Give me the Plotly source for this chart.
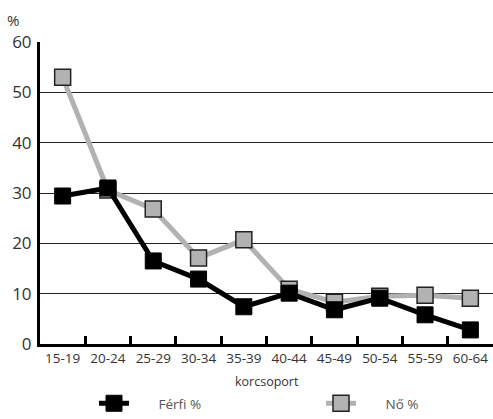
import plotly.graph_objects as go

categories = ["15-19", "20-24", "25-29", "30-34", "35-39", "40-44", "45-49", "50-54", "55-59", "60-64"]
ferfi = [29.4, 31.0, 16.5, 12.9, 7.4, 10.1, 6.8, 9.1, 5.8, 2.8]
no = [53.0, 30.6, 26.8, 17.1, 20.7, 10.9, 8.3, 9.5, 9.7, 9.1]
y_ticks = [0, 10, 20, 30, 40, 50, 60]

FONT = "Open Sans"
PAD = "\u00a0" * 7

fig = go.Figure()
fig.add_trace(go.Scatter(
    x=categories, y=no, name=PAD + "Nő %", mode="lines+markers",
    line=dict(color="#b2b2b2", width=5),
    marker=dict(symbol="square", size=16, color="#b2b2b2", line=dict(color="#222222", width=1.5)),
    legend="legend2", hoverinfo="skip",
))
fig.add_trace(go.Scatter(
    x=categories, y=ferfi, name=PAD + "Férfi %", mode="lines+markers",
    line=dict(color="#000000", width=5),
    marker=dict(symbol="square", size=16, color="#000000", line=dict(color="#000000", width=1)),
    legend="legend", hoverinfo="skip",
))

leg_common = dict(orientation="h", y=0.0, xref="container", yref="container",
                  xanchor="left", yanchor="bottom", bgcolor="rgba(0,0,0,0)",
                  font=dict(size=13.5, color="#555555"), itemsizing="trace")

fig.update_layout(
    width=493, height=419,
    margin=dict(l=40, r=0, t=42, b=75, autoexpand=False),
    paper_bgcolor="white", plot_bgcolor="white",
    font=dict(family=FONT, color="#333333"),
    showlegend=True,
    legend=dict(x=94 / 493, **leg_common),
    legend2=dict(x=321 / 493, **leg_common),
    annotations=[
        dict(text="%", x=0, y=1, xref="paper", yref="paper", xshift=-27, yshift=22,
             xanchor="center", yanchor="middle",
             showarrow=False, font=dict(size=15, color="#333333")),
        dict(text="korcsoport", x=0.5, y=0, xref="paper", yref="paper", yshift=-37,
             xanchor="center", yanchor="middle",
             showarrow=False, font=dict(size=12.5, color="#333333")),
    ],
)
fig.update_xaxes(
    type="category", range=[-0.5, 9.5], automargin=False, tickangle=0,
    showline=True, linecolor="black", linewidth=3,
    ticks="inside", tickson="boundaries", ticklen=8, tickwidth=3, tickcolor="black",
    tickfont=dict(size=13.5, color="#333333"),
    showgrid=False, zeroline=False,
)
fig.update_yaxes(
    range=[0, 60], tickvals=y_ticks, automargin=False,
    showline=True, linecolor="black", linewidth=3,
    showgrid=True, gridcolor="#222222", gridwidth=1,
    ticks="", tickfont=dict(size=17, color="#333333"), ticklabelstandoff=2,
    zeroline=False,
)
fig.write_html("out.html", config={"displayModeBar": False},
               post_script="document.body.style.margin='0';document.body.style.overflow='hidden';")
